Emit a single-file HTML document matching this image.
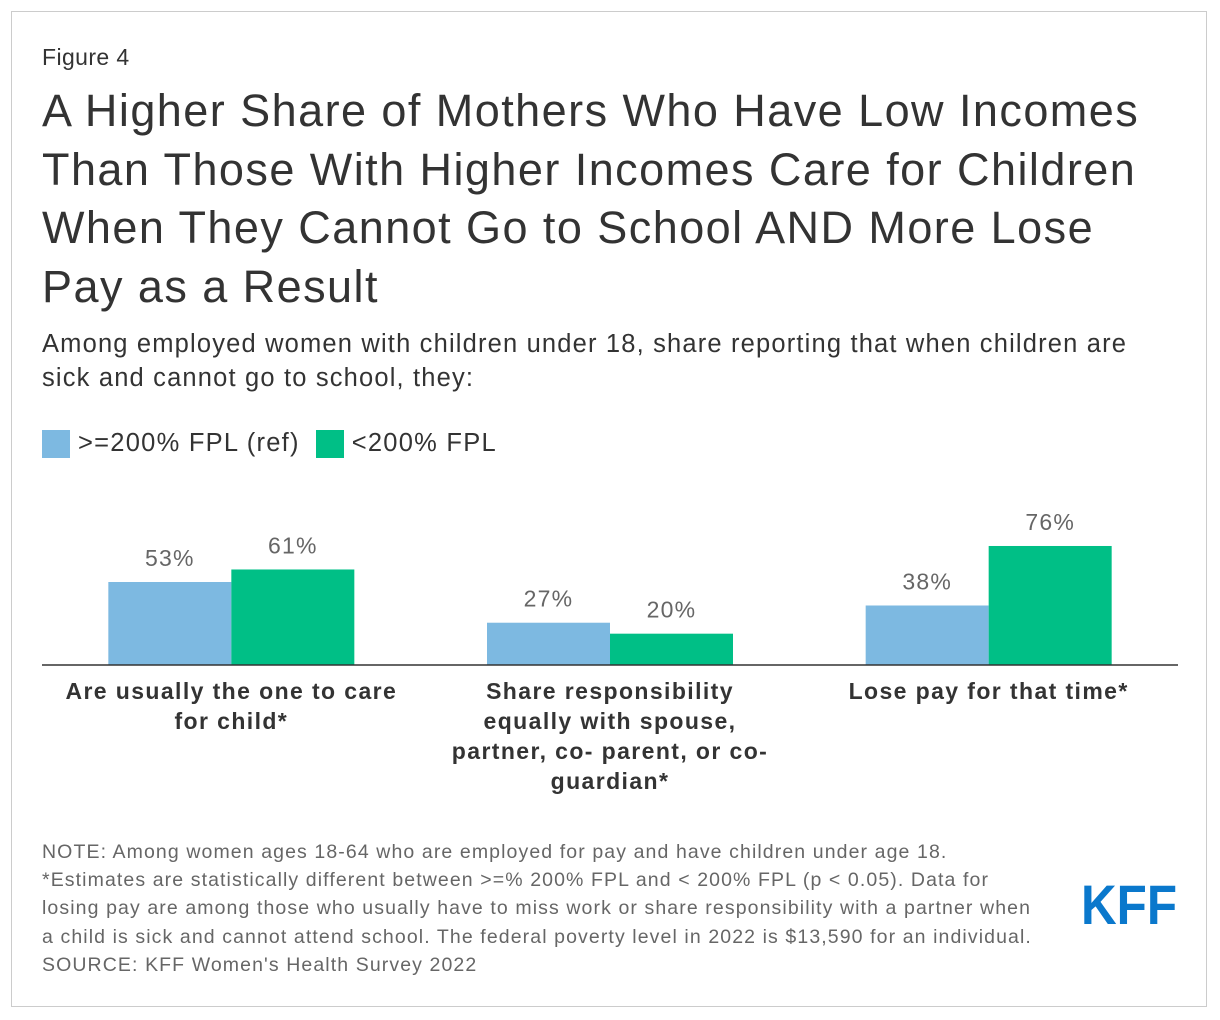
<!DOCTYPE html>
<html><head><meta charset="utf-8"><style>
body{margin:0;width:1220px;height:1020px;background:#fff;font-family:"Liberation Sans",Arial,sans-serif;position:relative;overflow:hidden}
.frame{position:absolute;left:11px;top:11px;width:1196px;height:996px;border:1px solid #ccc;box-sizing:border-box}
.abs{position:absolute;white-space:nowrap}
</style></head><body>
<div class="frame"></div>
<div class="abs" style="left:42px;top:44px;font-size:23px;color:#333;letter-spacing:0.4px">Figure 4</div>
<div class="abs" style="left:42px;top:82px;font-size:45px;line-height:58.5px;color:#333;letter-spacing:1.45px">A Higher Share of Mothers Who Have Low Incomes<br>Than Those With Higher Incomes Care for Children<br>When They Cannot Go to School AND More Lose<br>Pay as a Result</div>
<div class="abs" style="left:42px;top:327px;font-size:25.5px;line-height:34px;color:#333;letter-spacing:1.17px">Among employed women with children under 18, share reporting that when children are<br>sick and cannot go to school, they:</div>
<div class="abs" style="left:42px;top:429px;font-size:25.5px;color:#333;display:flex;align-items:center;letter-spacing:1.25px">
<span style="display:inline-block;width:28px;height:28px;background:#7db9e1;margin-right:8px"></span><span>&gt;=200% FPL (ref)</span>
<span style="display:inline-block;width:28px;height:28px;background:#00bf86;margin:0 8px 0 16px"></span><span>&lt;200% FPL</span>
</div>
<svg class="abs" style="left:0;top:0" width="1220" height="1020" id="chart"></svg>
<div class="abs" style="left:42px;top:838px;font-size:19.5px;line-height:28.2px;color:#666;letter-spacing:1.1px">NOTE: Among women ages 18-64 who are employed for pay and have children under age 18.<br>*Estimates are statistically different between &gt;=% 200% FPL and &lt; 200% FPL (p &lt; 0.05). Data for<br>losing pay are among those who usually have to miss work or share responsibility with a partner when<br>a child is sick and cannot attend school. The federal poverty level in 2022 is $13,590 for an individual.<br>SOURCE: KFF Women's Health Survey 2022</div>
<svg class="abs" style="left:1078px;top:876px" width="104" height="54"><text x="3" y="48" font-family="Liberation Sans" font-weight="bold" font-size="56" fill="#0a78cc" textLength="96" lengthAdjust="spacingAndGlyphs">KFF</text></svg>
<script>
const categories=["Are usually the one to care|for child*","Share responsibility|equally with spouse,|partner, co- parent, or co-|guardian*","Lose pay for that time*"];
const refValues=[53,27,38];
const lowValues=[61,20,76];
const svg=document.getElementById('chart');
const NS='http://www.w3.org/2000/svg';
const x0=42,x1=1178,base=665,pxPer=1.566,bw=123;
const band=(x1-x0)/categories.length;
const cx=i=>x0+band*(i+0.5);
const y=v=>base-v*pxPer;
function mk(t,a){const e=document.createElementNS(NS,t);for(const k in a)e.setAttribute(k,a[k]);svg.appendChild(e);return e;}
categories.forEach((c,i)=>{
 [[refValues[i],'#7db9e1',-bw,'ref'],[lowValues[i],'#00bf86',0,'low']].forEach(([v,col,off,nm])=>{
  const r=mk('rect',{x:cx(i)+off,y:y(v),width:bw,height:v*pxPer,fill:col});
  
  
  const t=mk('text',{x:cx(i)+off+bw/2,y:y(v)-16,'text-anchor':'middle','font-size':'23','fill':'#666','font-family':'Liberation Sans','letter-spacing':'1.2'});
  t.textContent=v+'%';
  
  
 });
 c.split('|').forEach((ln,j)=>{
  const t=mk('text',{x:cx(i),y:699+j*30,'text-anchor':'middle','font-size':'23','font-weight':'bold','fill':'#333','font-family':'Liberation Sans','letter-spacing':'1.4'});
  t.textContent=ln;
  
  
 });
});
const ax=mk('line',{x1:x0,x2:x1,y1:base,y2:base,stroke:'#333','stroke-width':1.5});


</script>
</body></html>
